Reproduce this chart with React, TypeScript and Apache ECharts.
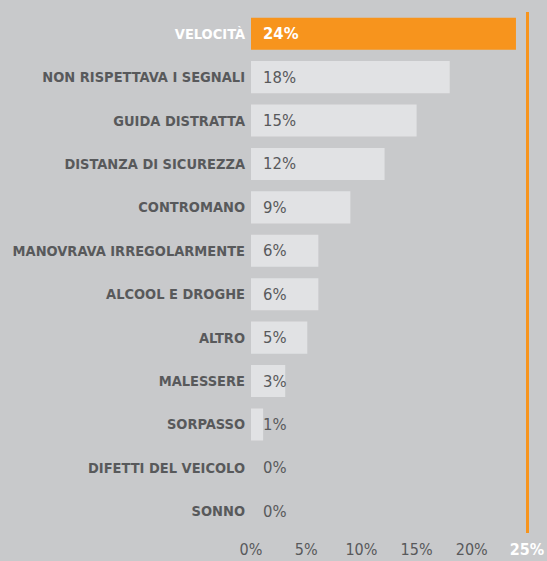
import React, { useEffect, useRef } from "react";
import * as echarts from "echarts";

const categories = [
  "VELOCITÀ",
  "NON RISPETTAVA I SEGNALI",
  "GUIDA DISTRATTA",
  "DISTANZA DI SICUREZZA",
  "CONTROMANO",
  "MANOVRAVA IRREGOLARMENTE",
  "ALCOOL E DROGHE",
  "ALTRO",
  "MALESSERE",
  "SORPASSO",
  "DIFETTI DEL VEICOLO",
  "SONNO",
];
const values = [24, 18, 15, 12.1, 9, 6.1, 6.1, 5.1, 3.1, 1.1, 0, 0];
const valueLabels = ["24%", "18%", "15%", "12%", "9%", "6%", "6%", "5%", "3%", "1%", "0%", "0%"];
const highlightIndex = 0;

const ORANGE = "#f7941d";
const BG = "#c8c9cb";
const BAR = "#e1e2e4";
const TEXT = "#58595b";
const FONT = "'DejaVu Sans Condensed', 'Roboto Condensed', Roboto, sans-serif";

export default function App() {
  const ref = useRef<HTMLDivElement>(null);
  useEffect(() => {
    document.body.style.margin = "0";
    document.body.style.background = BG;
    const chart = echarts.init(ref.current!, null, { renderer: "svg" });
    chart.setOption({
      animation: false,
      backgroundColor: BG,
      grid: { left: 251, top: 12, width: 276, height: 521, containLabel: false, outerBoundsMode: "none" },
      xAxis: {
        type: "value",
        min: 0,
        max: 25,
        interval: 5,
        axisLine: { show: false },
        axisTick: { show: false },
        splitLine: { show: false },
        axisLabel: {
          margin: 8,
          fontFamily: FONT,
          fontSize: 16,
          color: TEXT,
          formatter: (v: number) => (v === 25 ? `{hi|${v}%}` : `${v}%`),
          rich: {
            hi: {
              fontFamily: FONT,
              fontWeight: "bold",
              fontSize: 16,
              color: "#ffffff",
            },
          },
        },
      },
      yAxis: {
        type: "category",
        inverse: true,
        data: categories,
        axisLine: { show: false },
        axisTick: { show: false },
        axisLabel: {
          margin: 6,
          fontFamily: FONT,
          fontWeight: "bold",
          fontSize: 14.5,
          color: (_: string, i: number) => (i === highlightIndex ? "#ffffff" : TEXT),
        },
      },
      series: [
        {
          type: "bar",
          barCategoryGap: "26%",
          data: values.map((v, i) => ({
            value: v,
            itemStyle: { color: i === highlightIndex ? ORANGE : BAR },
            label: {
              color: i === highlightIndex ? "#ffffff" : TEXT,
              fontWeight: i === highlightIndex ? "bold" : "normal",
            },
          })),
          label: {
            show: true,
            position: "insideLeft",
            distance: 12,
            fontFamily: FONT,
            fontSize: 16.5,
            formatter: (p: any) => valueLabels[p.dataIndex],
          },
          markLine: {
            silent: true,
            symbol: "none",
            label: { show: false },
            lineStyle: { color: ORANGE, width: 3, type: "solid" },
            data: [{ xAxis: 25 }],
          },
        },
      ],
    });
    return () => chart.dispose();
  }, []);
  return <div ref={ref} style={{ width: 547, height: 561, background: BG }} />;
}
